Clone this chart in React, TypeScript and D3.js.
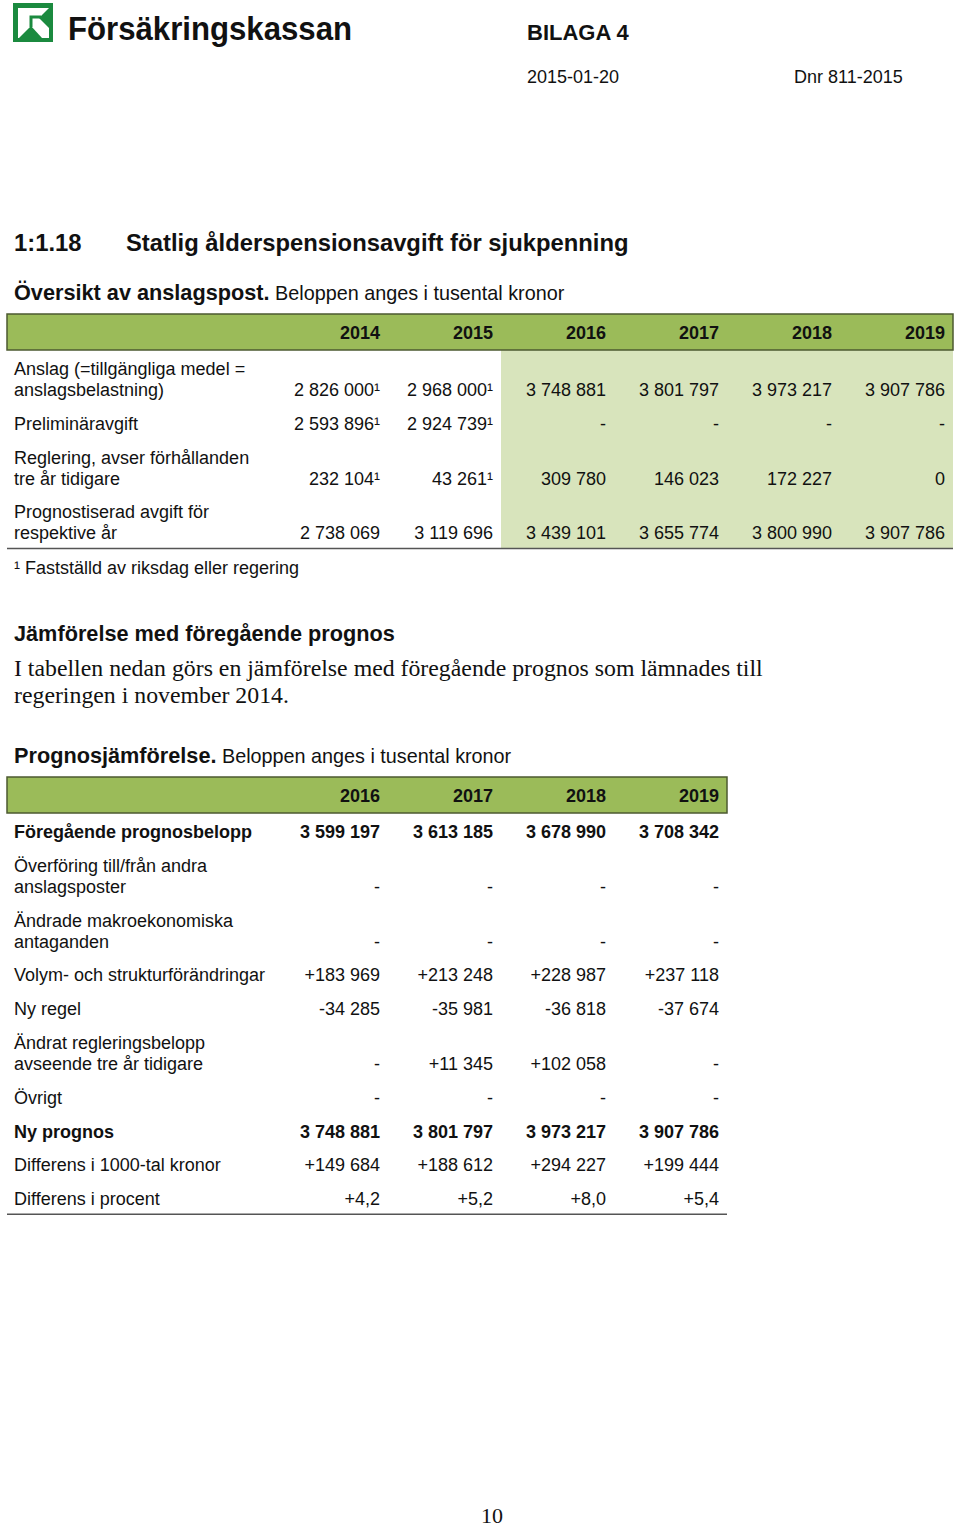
import React from "react";
import * as d3 from "d3";

// Översikt av anslagspost
const years1 = ["2014", "2015", "2016", "2017", "2018", "2019"];
const labels1 = [
  ["Anslag (=tillgängliga medel =", "anslagsbelastning)"],
  ["Preliminäravgift"],
  ["Reglering, avser förhållanden", "tre år tidigare"],
  ["Prognostiserad avgift för", "respektive år"],
];
const anslag = ["2 826 000¹", "2 968 000¹", "3 748 881", "3 801 797", "3 973 217", "3 907 786"];
const preliminar = ["2 593 896¹", "2 924 739¹", "-", "-", "-", "-"];
const reglering = ["232 104¹", "43 261¹", "309 780", "146 023", "172 227", "0"];
const prognostiserad = ["2 738 069", "3 119 696", "3 439 101", "3 655 774", "3 800 990", "3 907 786"];
const values1 = [anslag, preliminar, reglering, prognostiserad];

// Prognosjämförelse
const years2 = ["2016", "2017", "2018", "2019"];
const labels2 = [
  ["Föregående prognosbelopp"],
  ["Överföring till/från andra", "anslagsposter"],
  ["Ändrade makroekonomiska", "antaganden"],
  ["Volym- och strukturförändringar"],
  ["Ny regel"],
  ["Ändrat regleringsbelopp", "avseende tre år tidigare"],
  ["Övrigt"],
  ["Ny prognos"],
  ["Differens i 1000-tal kronor"],
  ["Differens i procent"],
];
const boldRows2 = [0, 7];
const foregaende = ["3 599 197", "3 613 185", "3 678 990", "3 708 342"];
const overforing = ["-", "-", "-", "-"];
const makro = ["-", "-", "-", "-"];
const volym = ["+183 969", "+213 248", "+228 987", "+237 118"];
const nyRegel = ["-34 285", "-35 981", "-36 818", "-37 674"];
const andratReg = ["-", "+11 345", "+102 058", "-"];
const ovrigt = ["-", "-", "-", "-"];
const nyPrognos = ["3 748 881", "3 801 797", "3 973 217", "3 907 786"];
const diffKr = ["+149 684", "+188 612", "+294 227", "+199 444"];
const diffPct = ["+4,2", "+5,2", "+8,0", "+5,4"];
const values2 = [foregaende, overforing, makro, volym, nyRegel, andratReg, ovrigt, nyPrognos, diffKr, diffPct];

const SANS = "'Liberation Sans', Arial, sans-serif";
const SERIF = "'Liberation Serif', 'Times New Roman', serif";
const GREEN = "#9bbb59";
const LIGHT = "#d8e4bc";
const BORDER = "#4c5a30";

const STEP = 33.8;
const LINE = 21;

// last-line baseline of each row, relative to header bottom
function rowBaselines(labels: string[][]) {
  const out: number[] = [];
  let y = 25;
  labels.forEach((l, i) => {
    if (i > 0) y += STEP;
    y += LINE * (l.length - 1);
    out.push(y);
  });
  return out;
}

function Table(props: {
  top: number;
  right: number;
  years: string[];
  labels: string[][];
  values: string[][];
  bold?: number[];
  shadeFrom?: number;
}) {
  const { top, right, years, labels, values, bold = [], shadeFrom } = props;
  const x = d3.scaleLinear().domain([0, years.length - 1]).range([380, right - 8]);
  const headH = 36;
  const hb = top + headH;
  const bl = rowBaselines(labels);
  const bottom = hb + bl[bl.length - 1] + 9;
  return (
    <g>
      {shadeFrom !== undefined && (
        <rect x={x(shadeFrom) - 105} y={hb} width={right - (x(shadeFrom) - 105)} height={bottom - hb} fill={LIGHT} />
      )}
      <rect x={7} y={top} width={right - 7} height={headH} fill={GREEN} stroke={BORDER} strokeWidth={1.5} />
      {years.map((yr, i) => (
        <text key={yr} x={x(i)} y={top + 25} textAnchor="end" fontWeight="bold" fontSize={18} fontFamily={SANS} fill="#111">
          {yr}
        </text>
      ))}
      {labels.map((lab, r) => {
        const isBold = bold.includes(r);
        const base = hb + bl[r];
        return (
          <g key={r} fontFamily={SANS} fontSize={18} fill="#111" fontWeight={isBold ? "bold" : "normal"}>
            {lab.map((t, k) => (
              <text key={k} x={14} y={base - LINE * (lab.length - 1 - k)}>
                {t}
              </text>
            ))}
            {values[r].map((v, c) => (
              <text key={c} x={x(c)} y={base} textAnchor="end">
                {v}
              </text>
            ))}
          </g>
        );
      })}
      <line x1={7} x2={right} y1={bottom} y2={bottom} stroke="#555" strokeWidth={1.5} />
    </g>
  );
}

export default function App() {
  return (
    <div style={{ position: "absolute", left: 0, top: 0 }}>
      <svg width={960} height={1527} style={{ display: "block", background: "#fff" }}>
        {/* logo */}
        <rect x={13} y={3} width={40} height={39} fill="#1b8a3f" />
        <rect x={18} y={8} width={31} height={30} fill="#fff" />
        <polygon points="39,18 49,8 49,28" fill="#1b8a3f" />
        <polygon points="19,38 31,26 42,38" fill="#1b8a3f" />
        <polyline points="41,17 31,17 31,27" fill="none" stroke="#1b8a3f" strokeWidth={3} />
        <text x={68} y={40} fontFamily={SANS} fontWeight="bold" fontSize={33} textLength={284} lengthAdjust="spacingAndGlyphs" fill="#111">
          Försäkringskassan
        </text>

        <text x={527} y={40} fontFamily={SANS} fontWeight="bold" fontSize={22} fill="#111">BILAGA 4</text>
        <text x={527} y={83} fontFamily={SANS} fontSize={18} fill="#111">2015-01-20</text>
        <text x={794} y={83} fontFamily={SANS} fontSize={18} fill="#111">Dnr 811-2015</text>

        <text x={14} y={251} fontFamily={SANS} fontWeight="bold" fontSize={23.8} fill="#111">1:1.18</text>
        <text x={126} y={251} fontFamily={SANS} fontWeight="bold" fontSize={23.8} fill="#111">
          Statlig ålderspensionsavgift för sjukpenning
        </text>

        <text x={14} y={300} fontFamily={SANS} fill="#111">
          <tspan fontWeight="bold" fontSize={21.7}>Översikt av anslagspost.</tspan>
          <tspan fontSize={19.8}> Beloppen anges i tusental kronor</tspan>
        </text>

        <Table top={314} right={953} years={years1} labels={labels1} values={values1} shadeFrom={2} />

        <text x={14} y={574} fontFamily={SANS} fontSize={18} fill="#111">¹ Fastställd av riksdag eller regering</text>

        <text x={14} y={641} fontFamily={SANS} fontWeight="bold" fontSize={21.7} fill="#111">
          Jämförelse med föregående prognos
        </text>
        <text x={14} y={676} fontFamily={SERIF} fontSize={23.8} fill="#111">
          I tabellen nedan görs en jämförelse med föregående prognos som lämnades till
        </text>
        <text x={14} y={703} fontFamily={SERIF} fontSize={23.8} fill="#111">regeringen i november 2014.</text>

        <text x={14} y={763} fontFamily={SANS} fill="#111">
          <tspan fontWeight="bold" fontSize={21.7}>Prognosjämförelse.</tspan>
          <tspan fontSize={19.8}> Beloppen anges i tusental kronor</tspan>
        </text>

        <Table top={777} right={727} years={years2} labels={labels2} values={values2} bold={boldRows2} />

        <text x={492} y={1523} textAnchor="middle" fontFamily={SERIF} fontSize={22} fill="#111">10</text>
      </svg>
    </div>
  );
}
